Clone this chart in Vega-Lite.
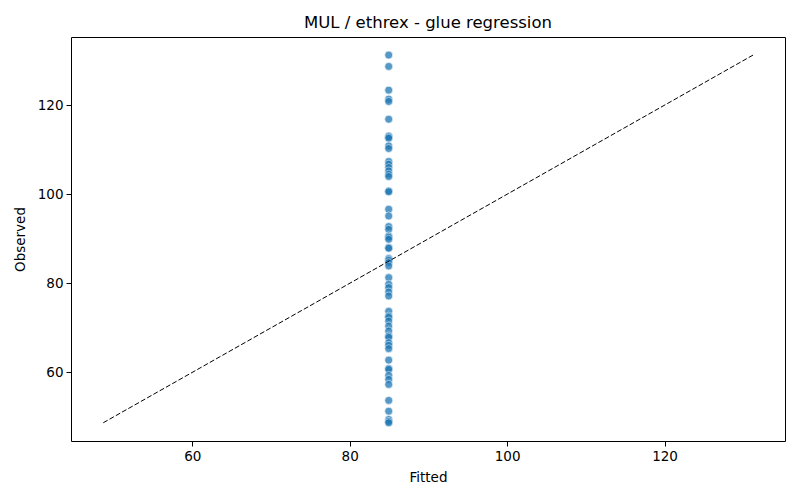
{
  "$schema": "https://vega.github.io/schema/vega-lite/v6.json",
  "autosize": {"type": "none"},
  "padding": {"left": 71, "top": 37, "right": 15, "bottom": 59},
  "width": 714,
  "height": 404,
  "background": "white",
  "config": {
    "font": "DejaVu Sans",
    "view": {"stroke": "black", "strokeWidth": 1},
    "axis": {
      "grid": false,
      "domain": false,
      "tickColor": "black",
      "tickSize": 5,
      "tickWidth": 1,
      "labelFontSize": 13.5,
      "labelColor": "black",
      "labelPadding": 3,
      "titleFontSize": 13.5,
      "titleFontWeight": "normal",
      "titleColor": "black"
    },
    "axisX": {"titlePadding": 8},
    "axisY": {"titlePadding": 10},
    "title": {"fontSize": 16.5, "fontWeight": "normal", "color": "black", "offset": 6}
  },
  "title": "MUL / ethrex - glue regression",
  "datasets": {
    "pts": [
      {"fitted": 84.96, "observed": 131.24},
      {"fitted": 84.96, "observed": 128.70},
      {"fitted": 84.96, "observed": 123.37},
      {"fitted": 84.96, "observed": 121.35},
      {"fitted": 84.96, "observed": 120.83},
      {"fitted": 84.96, "observed": 116.85},
      {"fitted": 84.96, "observed": 113.10},
      {"fitted": 84.96, "observed": 112.85},
      {"fitted": 84.96, "observed": 112.58},
      {"fitted": 84.96, "observed": 110.85},
      {"fitted": 84.96, "observed": 110.27},
      {"fitted": 84.96, "observed": 107.35},
      {"fitted": 84.96, "observed": 106.74},
      {"fitted": 84.96, "observed": 106.00},
      {"fitted": 84.96, "observed": 105.24},
      {"fitted": 84.96, "observed": 104.49},
      {"fitted": 84.96, "observed": 103.98},
      {"fitted": 84.96, "observed": 100.74},
      {"fitted": 84.96, "observed": 100.56},
      {"fitted": 84.96, "observed": 96.63},
      {"fitted": 84.96, "observed": 95.12},
      {"fitted": 84.96, "observed": 92.74},
      {"fitted": 84.96, "observed": 92.13},
      {"fitted": 84.96, "observed": 90.63},
      {"fitted": 84.96, "observed": 90.34},
      {"fitted": 84.96, "observed": 89.89},
      {"fitted": 84.96, "observed": 88.02},
      {"fitted": 84.96, "observed": 87.87},
      {"fitted": 84.96, "observed": 85.55},
      {"fitted": 84.96, "observed": 85.17},
      {"fitted": 84.96, "observed": 84.65},
      {"fitted": 84.96, "observed": 83.89},
      {"fitted": 84.96, "observed": 81.28},
      {"fitted": 84.96, "observed": 79.78},
      {"fitted": 84.96, "observed": 79.03},
      {"fitted": 84.96, "observed": 78.04},
      {"fitted": 84.96, "observed": 77.15},
      {"fitted": 84.96, "observed": 73.71},
      {"fitted": 84.96, "observed": 72.65},
      {"fitted": 84.96, "observed": 72.36},
      {"fitted": 84.96, "observed": 71.53},
      {"fitted": 84.96, "observed": 70.40},
      {"fitted": 84.96, "observed": 69.28},
      {"fitted": 84.96, "observed": 68.16},
      {"fitted": 84.96, "observed": 67.87},
      {"fitted": 84.96, "observed": 66.67},
      {"fitted": 84.96, "observed": 66.07},
      {"fitted": 84.96, "observed": 65.33},
      {"fitted": 84.96, "observed": 62.76},
      {"fitted": 84.96, "observed": 60.90},
      {"fitted": 84.96, "observed": 60.67},
      {"fitted": 84.96, "observed": 59.33},
      {"fitted": 84.96, "observed": 58.43},
      {"fitted": 84.96, "observed": 57.30},
      {"fitted": 84.96, "observed": 53.71},
      {"fitted": 84.96, "observed": 51.30},
      {"fitted": 84.96, "observed": 49.44},
      {"fitted": 84.96, "observed": 48.99},
      {"fitted": 84.96, "observed": 48.70}
    ],
    "diag": [
      {"fitted": 48.70, "observed": 48.70},
      {"fitted": 131.24, "observed": 131.24}
    ]
  },
  "layer": [
    {
      "data": {"name": "pts"},
      "mark": {"type": "point", "filled": true, "shape": "circle", "size": 64, "color": "#1f77b4", "opacity": 0.75, "stroke": "white", "strokeWidth": 0.7, "strokeOpacity": 0.9},
      "encoding": {
        "x": {"field": "fitted", "type": "quantitative", "title": "Fitted", "scale": {"domain": [44.6, 135.3], "nice": false, "zero": false}, "axis": {"values": [60, 80, 100, 120]}},
        "y": {"field": "observed", "type": "quantitative", "title": "Observed", "scale": {"domain": [44.6, 135.3], "nice": false, "zero": false}, "axis": {"values": [60, 80, 100, 120]}}
      }
    },
    {
      "data": {"name": "diag"},
      "mark": {"type": "line", "color": "black", "strokeWidth": 1, "strokeDash": [5, 2.2]},
      "encoding": {
        "x": {"field": "fitted", "type": "quantitative"},
        "y": {"field": "observed", "type": "quantitative"}
      }
    }
  ]
}
